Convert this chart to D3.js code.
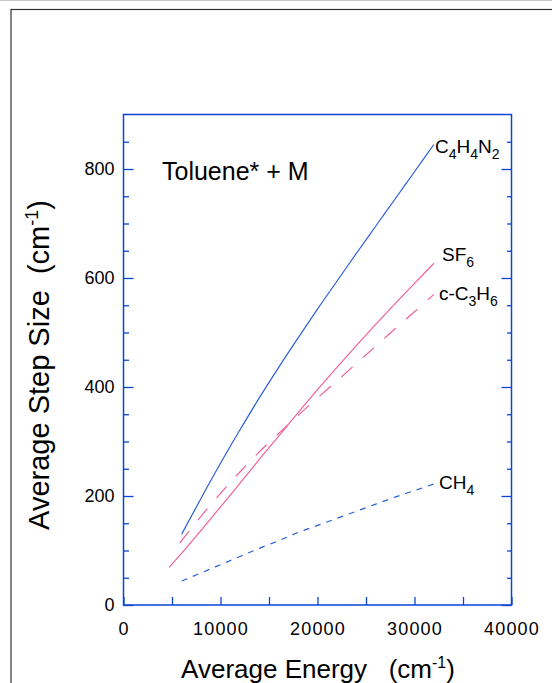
<!DOCTYPE html>
<html>
<head>
<meta charset="utf-8">
<script src="https://cdn.jsdelivr.net/npm/d3@7"></script>
<style>
  body { margin: 0; background: #fff; }
  svg text { font-family: "Liberation Sans", Arial, Helvetica, sans-serif; fill: #000; }
</style>
</head>
<body>
<div id="chart"></div>
<script>
// energy grid (cm-1) and step sizes
var energyC4 = [6000, 8000, 10000, 12000, 14000, 16000, 18000, 20000, 22000, 24000, 26000, 28000, 30000, 32000];
var stepC4 = [130, 196, 260, 321, 380, 436, 490, 543, 594, 645, 695, 745, 795, 845];

var energySF6 = [4700, 6000, 8000, 10000, 12000, 14000, 16000, 18000, 20000, 22000, 24000, 26000, 28000, 30000, 32000];
var stepSF6 = [69, 95, 137, 180, 223, 267, 310, 353, 395, 436, 476, 515, 553, 590, 627];

var energyC3 = [5800, 8000, 10000, 12000, 14000, 16000, 18000, 20000, 22000, 24000, 26000, 28000, 30000, 32000];
var stepC3 = [114, 163, 205, 244, 281, 315, 348, 380, 411, 443, 475, 507, 538, 570];

var energyCH4 = [6000, 8000, 10000, 12000, 14000, 16000, 18000, 20000, 22000, 24000, 26000, 28000, 30000, 32000];
var stepCH4 = [44, 59, 74, 89, 104, 118, 133, 146, 159, 172, 185, 198, 210, 222];

var xMinorTicks = [0, 5000, 10000, 15000, 20000, 25000, 30000, 35000, 40000];
var xTickLabels = [0, 10000, 20000, 30000, 40000];
var yMinorTicks = [50, 100, 150, 250, 300, 350, 450, 500, 550, 650, 700, 750, 850];
var yTickLabels = [0, 200, 400, 600, 800];

function init() {
  var W = 552, H = 683;
  var left = 123.5, right = 511.5, top = 114.5, bottom = 605;
  var axisBlue = "#0845d8";

  var svg = d3.select("#chart").append("svg").attr("width", W).attr("height", H);

  // outer page border (runs off the right and bottom)
  svg.append("line").attr("x1", 0).attr("x2", W).attr("y1", 0.5).attr("y2", 0.5)
    .attr("stroke", "#c8c8c8").attr("stroke-width", 1);
  svg.append("rect").attr("x", 11).attr("y", 9.5).attr("width", W + 20).attr("height", H + 20)
    .attr("fill", "none").attr("stroke", "#333").attr("stroke-width", 1.2);

  var x = d3.scaleLinear().domain([0, 40000]).range([left, right]);
  var y = d3.scaleLinear().domain([0, 900]).range([bottom, top]);

  // bottom axis: all ticks inward, same length
  var gx = svg.append("g").attr("transform", "translate(0," + bottom + ")")
    .call(d3.axisBottom(x).tickValues(xMinorTicks).tickSize(-8).tickPadding(17)
      .tickFormat(function (d) { return xTickLabels.indexOf(d) >= 0 ? d : ""; }));

  // left axis: minor and major ticks
  var gyMinor = svg.append("g").attr("transform", "translate(" + left + ",0)")
    .call(d3.axisLeft(y).tickValues(yMinorTicks).tickSize(-5.5).tickFormat(""));
  var gy = svg.append("g").attr("transform", "translate(" + left + ",0)")
    .call(d3.axisLeft(y).tickValues(yTickLabels).tickSize(-10).tickPadding(9));

  // right axis: ticks only
  var grMinor = svg.append("g").attr("transform", "translate(" + right + ",0)")
    .call(d3.axisRight(y).tickValues(yMinorTicks).tickSize(-4.5).tickFormat(""));
  var gr = svg.append("g").attr("transform", "translate(" + right + ",0)")
    .call(d3.axisRight(y).tickValues(yTickLabels).tickSize(-10).tickFormat(""));

  [gx, gyMinor, gy, grMinor, gr].forEach(function (g) {
    g.select(".domain").remove();
    g.selectAll(".tick line").attr("stroke", axisBlue).attr("stroke-width", 1.3);
    g.selectAll(".tick text").attr("font-size", 18).attr("fill", "#000")
      .style("font-family", "'Liberation Sans', Arial, sans-serif");
  });
  gx.selectAll(".tick text").attr("letter-spacing", 1.2);
  gy.selectAll(".tick text").attr("font-size", 18);

  // plot frame
  svg.append("rect").attr("x", left).attr("y", top)
    .attr("width", right - left).attr("height", bottom - top)
    .attr("fill", "none").attr("stroke", axisBlue).attr("stroke-width", 1.5);

  var line = d3.line()
    .x(function (d) { return x(d[0]); })
    .y(function (d) { return y(d[1]); })
    .curve(d3.curveMonotoneX);

  var series = [
    { e: energyC4, s: stepC4, color: "#2a60dc", dash: null },
    { e: energySF6, s: stepSF6, color: "#f0619c", dash: null },
    { e: energyC3, s: stepC3, color: "#f0619c", dash: "15,14" },
    { e: energyCH4, s: stepCH4, color: "#2a60dc", dash: "6,6" }
  ];

  series.forEach(function (d) {
    svg.append("path")
      .datum(d3.zip(d.e, d.s))
      .attr("d", line)
      .attr("fill", "none")
      .attr("stroke", d.color)
      .attr("stroke-width", 1.2)
      .attr("stroke-dasharray", d.dash);
  });

  // chemical formula labels with subscripts
  function formula(xp, yp, parts) {
    var t = svg.append("text").attr("x", xp).attr("y", yp).attr("font-size", 19);
    parts.forEach(function (p) {
      if (p.sub) {
        t.append("tspan").attr("dy", 6).attr("font-size", 14).text(p.sub);
      } else {
        t.append("tspan").attr("dy", p.after ? -6 : 0).text(p.t);
      }
    });
  }
  formula(435, 153, [{ t: "C" }, { sub: "4" }, { t: "H", after: 1 }, { sub: "4" }, { t: "N", after: 1 }, { sub: "2" }]);
  formula(442, 261, [{ t: "SF" }, { sub: "6" }]);
  formula(439, 300, [{ t: "c-C" }, { sub: "3" }, { t: "H", after: 1 }, { sub: "6" }]);
  formula(439, 489, [{ t: "CH" }, { sub: "4" }]);

  svg.append("text").attr("x", 162).attr("y", 180).attr("font-size", 25)
    .text("Toluene* + M");

  // axis titles
  var xt = svg.append("text").attr("x", 318).attr("y", 678)
    .attr("text-anchor", "middle").attr("font-size", 26);
  xt.append("tspan").text("Average Energy \u00a0\u00a0(cm");
  xt.append("tspan").attr("dy", -10).attr("font-size", 16).text("-1");
  xt.append("tspan").attr("dy", 10).text(")");

  var yt = svg.append("text")
    .attr("transform", "translate(49,365) rotate(-90)")
    .attr("text-anchor", "middle").attr("font-size", 29);
  yt.append("tspan").text("Average Step Size \u00a0(cm");
  yt.append("tspan").attr("dy", -11).attr("font-size", 18).text("-1");
  yt.append("tspan").attr("dy", 11).text(")");
}

window.onload = init;
</script>
</body>
</html>
